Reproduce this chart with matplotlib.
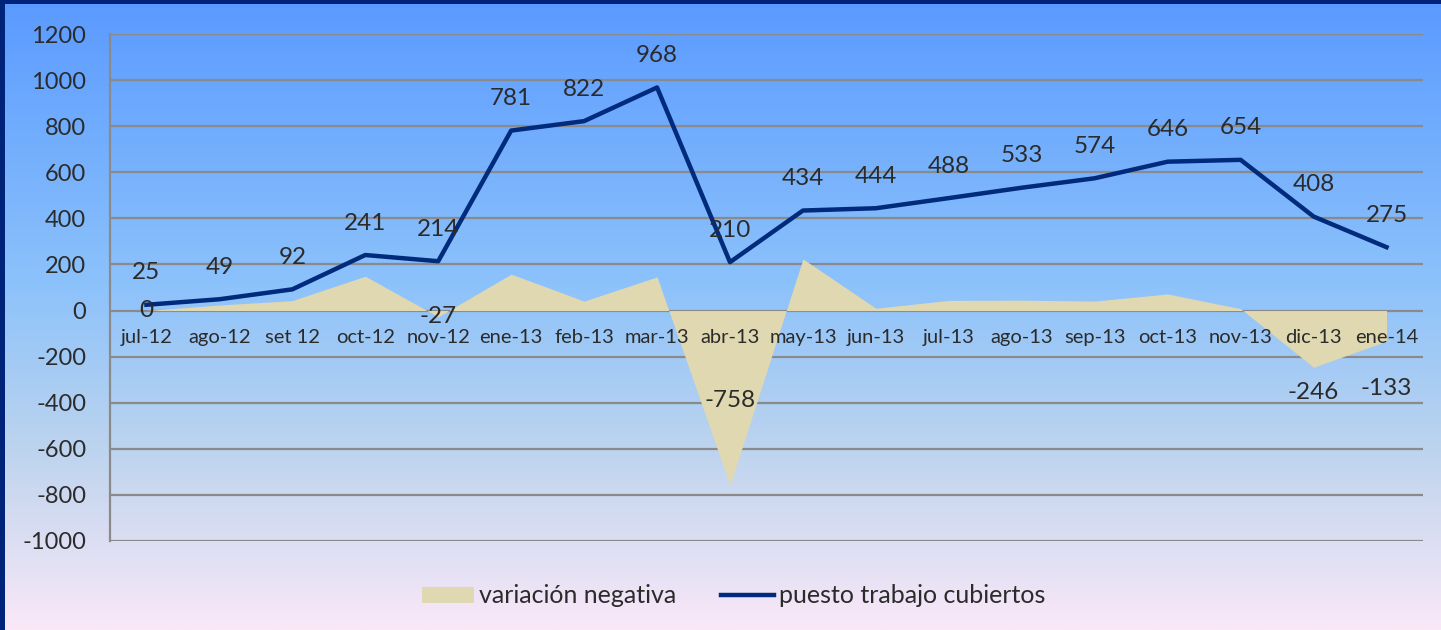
import matplotlib

matplotlib.use("Agg")
import matplotlib.pyplot as plt
import numpy as np
from matplotlib.colors import LinearSegmentedColormap
from matplotlib.lines import Line2D
from matplotlib.patches import Patch, Rectangle

plt.rcParams["font.family"] = ["Lato", "DejaVu Sans"]
plt.rcParams["axes.unicode_minus"] = False

months = ["jul-12", "ago-12", "set 12", "oct-12", "nov-12", "ene-13", "feb-13",
          "mar-13", "abr-13", "may-13", "jun-13", "jul-13", "ago-13", "sep-13",
          "oct-13", "nov-13", "dic-13", "ene-14"]
puestos = [25, 49, 92, 241, 214, 781, 822, 968, 210, 434, 444, 488, 533, 574,
           646, 654, 408, 275]
variacion = [0, 24, 43, 149, -27, 158, 41, 146, -758, 224, 10, 44, 45, 41,
             72, 8, -246, -133]
# labels shown on the area series only for these points (index -> label y)
area_labels = {0: 0, 4: -27, 8: -390, 16: -355, 17: -340}

AREA = "#e0d8b0"
LINE = "#002a7c"
TXT = "#2b2b2b"
GRID = "#8a8a8a"
NAVY = "#00237a"

fig = plt.figure(figsize=(14.41, 6.30), dpi=100)

# gradient background + navy edge on top and left
bg = fig.add_axes([0, 0, 1, 1], zorder=-10)
cmap = LinearSegmentedColormap.from_list(
    "bg", [(0, "#5a9aff"), (0.45, "#8cc2fb"), (0.72, "#bed4ee"), (1, "#fae8f8")])
bg.imshow(np.linspace(0, 1, 256)[:, None], aspect="auto", cmap=cmap,
          extent=[0, 1, 0, 1], origin="upper")
bg.add_patch(Rectangle((0, 0), 5 / 1441, 1, color=NAVY, linewidth=0))
bg.add_patch(Rectangle((0, 1 - 4 / 630), 1, 4 / 630, color=NAVY, linewidth=0))
bg.set_xlim(0, 1)
bg.set_ylim(0, 1)
bg.axis("off")

ax = fig.add_axes([0.0763, 0.1413, 0.9112, 0.8047])
ax.patch.set_alpha(0)
x = np.arange(len(months))

ax.fill_between(x, variacion, 0, color=AREA, linewidth=0, zorder=2)
ax.plot(x, puestos, color=LINE, linewidth=3.2, zorder=4, solid_joinstyle="round")

for i, v in enumerate(puestos):
    ax.annotate(str(v), (i, v), xytext=(0, 32), textcoords="offset pixels",
                ha="center", va="center", fontsize=17.5, color=TXT, zorder=5)
for i, ly in area_labels.items():
    ax.text(i, ly, str(variacion[i]), ha="center", va="center", fontsize=17.5,
            color=TXT, zorder=5)
# category labels sit just under the zero line, above the area fill
for i, m in enumerate(months):
    ax.annotate(m, (i, 0), xytext=(0, -27), textcoords="offset pixels",
                ha="center", va="center", fontsize=14.5, color=TXT, zorder=5)

ax.set_xlim(-0.5, len(months) - 0.5)
ax.set_ylim(-1000, 1200)
ax.set_yticks(np.arange(-1000, 1201, 200))
ax.yaxis.grid(True, color=GRID, linewidth=1.6, zorder=1)
ax.set_axisbelow(True)
ax.set_xticks([])
for s in ["top", "right", "bottom"]:
    ax.spines[s].set_visible(False)
ax.spines["left"].set_color(GRID)
ax.spines["left"].set_linewidth(1.6)
ax.tick_params(axis="y", length=0, pad=17, labelsize=17, labelcolor=TXT)

handles = [Patch(facecolor=AREA, edgecolor="none"),
           Line2D([], [], color=LINE, linewidth=3.2)]
fig.legend(handles, ["variación negativa", "puesto trabajo cubiertos"],
           loc="center", bbox_to_anchor=(0.509, 0.054), ncol=2, frameon=False,
           fontsize=18, handlelength=2.1, handleheight=0.6, handletextpad=0.2,
           columnspacing=1.8, labelcolor=TXT)

fig.savefig("out.png", dpi=100)
